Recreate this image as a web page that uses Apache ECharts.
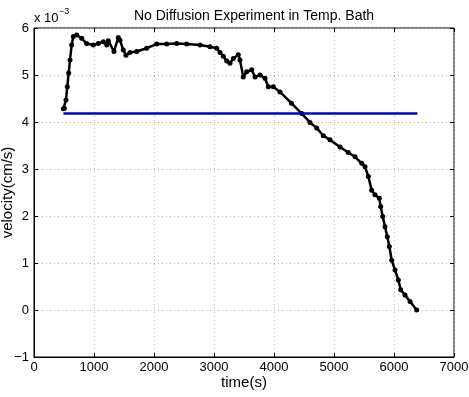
<!DOCTYPE html>
<html>
<head>
<meta charset="utf-8">
<script src="https://cdn.jsdelivr.net/npm/echarts@6/dist/echarts.min.js"></script>
<style>
  html, body { margin: 0; padding: 0; background: #fff; }
  #chart { width: 469px; height: 397px; }
</style>
</head>
<body>
<div id="chart"></div>
<script>
// time in seconds, velocity in units of 1e-3 cm/s
const times = [490, 505, 533, 555, 578, 600, 628, 655, 712, 795,
  878, 988, 1072, 1155, 1212, 1238, 1333, 1405, 1433, 1488,
  1533, 1600, 1712, 1878, 2045, 2212, 2378, 2545, 2767, 2933,
  3045, 3100, 3155, 3212, 3267, 3322, 3405, 3433, 3488, 3545,
  3628, 3683, 3767, 3850, 3905, 3988, 4100, 4290, 4462, 4600,
  4712, 4822, 4933, 5100, 5238, 5350, 5462, 5517, 5572, 5628,
  5683, 5755, 5778, 5812, 5850, 5888, 5922, 5962, 6017, 6072,
  6112, 6183, 6267, 6378];
const velocity = [4.28, 4.29, 4.47, 4.75, 5.04, 5.32, 5.64, 5.82, 5.85, 5.78,
  5.67, 5.64, 5.67, 5.71, 5.64, 5.73, 5.50, 5.80, 5.74, 5.53,
  5.42, 5.48, 5.50, 5.57, 5.66, 5.66, 5.67, 5.66, 5.64, 5.60,
  5.57, 5.48, 5.40, 5.30, 5.25, 5.35, 5.43, 5.32, 4.96, 5.07,
  5.11, 4.96, 5.00, 4.93, 4.75, 4.75, 4.64, 4.40, 4.18, 3.99,
  3.87, 3.71, 3.62, 3.47, 3.35, 3.26, 3.12, 3.05, 2.84, 2.55,
  2.45, 2.38, 2.20, 1.99, 1.77, 1.56, 1.35, 1.06, 0.85, 0.64,
  0.43, 0.32, 0.18, 0.00];
const refTimes = [490, 6390];
const refLevel = 4.18;

const FONT = "Liberation Sans, Arial, Helvetica, sans-serif";
const minus = (v) => String(v).replace("-", "\u2212");

const chart = echarts.init(document.getElementById("chart"));

const gridLines = {
  show: true,
  lineStyle: { color: "#b8b8b8", type: [1, 3], width: 1 },
};
const innerTicks = { show: true, inside: true, length: 4, lineStyle: { color: "#000" } };

chart.setOption({
  animation: false,
  title: {
    text: "No Diffusion Experiment in Temp. Bath",
    left: 249,
    top: 4,
    textAlign: "center",
    textStyle: { fontFamily: FONT, fontSize: 14, fontWeight: "normal", color: "#000" },
  },
  grid: {
    left: 34, right: 15, top: 28, bottom: 40,
    outerBoundsMode: "none",
    show: true, borderColor: "#000", borderWidth: 1,
  },
  graphic: [
    {
      type: "text", left: 34, top: 12,
      style: { text: "x 10", fontFamily: FONT, fontSize: 13, fill: "#000" },
    },
    {
      type: "text", left: 59, top: 7,
      style: { text: "\u22123", fontFamily: FONT, fontSize: 9, fill: "#000" },
    },
  ],
  xAxis: [
    {
      type: "value", min: 0, max: 7000, interval: 1000,
      name: "time(s)", nameLocation: "middle", nameGap: 18, nameMoveOverlap: false,
      nameTextStyle: { fontFamily: FONT, fontSize: 15, color: "#000" },
      axisLine: { show: true, onZero: false, lineStyle: { color: "#000" } },
      axisTick: innerTicks,
      axisLabel: { fontFamily: FONT, fontSize: 13, color: "#000", margin: 4, formatter: (v) => String(v) },
      splitLine: gridLines,
    },
    {
      type: "value", min: 0, max: 7000, interval: 1000, position: "top",
      axisLine: { show: false, onZero: false },
      axisTick: innerTicks,
      axisLabel: { show: false },
      splitLine: { show: false },
    },
  ],
  yAxis: [
    {
      type: "value", min: -1, max: 6, interval: 1,
      name: "velocity(cm/s)", nameLocation: "middle", nameGap: 19, nameMoveOverlap: false,
      nameTextStyle: { fontFamily: FONT, fontSize: 15, color: "#000" },
      axisLine: { show: true, onZero: false, lineStyle: { color: "#000" } },
      axisTick: innerTicks,
      axisLabel: { fontFamily: FONT, fontSize: 13, color: "#000", margin: 5, formatter: minus },
      splitLine: gridLines,
    },
    {
      type: "value", min: -1, max: 6, interval: 1, position: "right",
      axisLine: { show: false, onZero: false },
      axisTick: innerTicks,
      axisLabel: { show: false },
      splitLine: { show: false },
    },
  ],
  series: [
    {
      name: "velocity",
      type: "line",
      data: times.map((t, i) => [t, velocity[i]]),
      symbol: "circle",
      symbolSize: 5,
      showAllSymbol: true,
      lineStyle: { color: "#000", width: 2.5 },
      itemStyle: { color: "#000" },
      z: 3,
    },
    {
      name: "mean",
      type: "line",
      data: refTimes.map((t) => [t, refLevel]),
      symbol: "none",
      lineStyle: { color: "#0000cc", width: 2.5 },
      z: 4,
    },
  ],
});
</script>
</body>
</html>
